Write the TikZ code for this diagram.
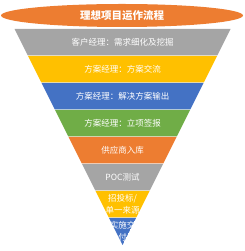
\documentclass[tikz,border=0pt]{standalone}
\usepackage{fontspec}
\setmainfont{Noto Sans CJK SC}
\usepackage{tikz}
\usetikzlibrary{shapes.geometric, positioning}
\definecolor{myorange}{RGB}{237,125,49}
\definecolor{mygray}{RGB}{165,165,165}
\definecolor{myyellow}{RGB}{255,192,0}
\definecolor{myblue}{RGB}{68,114,196}
\definecolor{mygreen}{RGB}{112,173,71}
\tikzset{
  titlebox/.style={ellipse, fill=myorange, minimum width=242pt,
    minimum height=23pt, inner sep=0pt, text=white,
    font=\fontsize{10.5}{12}\selectfont\bfseries},
  bandtext/.style={text=white, align=center, inner sep=0pt,
    font=\fontsize{8.5}{12}\selectfont}
}

\begin{document}
\begin{tikzpicture}[x=1pt, y=1pt]
  \useasboundingbox (0,0) rectangle (244,251);

  % Title ellipse
  \node[titlebox] (title) at (122,235.5) {理想项目运作流程};

  % Funnel bands
  \foreach \i/\col/\txt in {1/mygray/{客户经理：需求细化及挖掘},
      2/myyellow/{方案经理：方案交流},
      3/myblue/{方案经理：解决方案输出},
      4/mygreen/{方案经理：立项签报},
      5/myorange/{供应商入库},
      6/mygray/{POC测试},
      7/myyellow/{招投标/\\单一来源}} {
    \pgfmathsetmacro{\yt}{222-27*(\i-1)}
    \pgfmathsetmacro{\yb}{\yt-26.3}
    \fill[\col] ({122.5-(\yt-6)/2},\yt) -- ({122.5+(\yt-6)/2},\yt)
      -- ({122.5+(\yb-6)/2},\yb) -- ({122.5-(\yb-6)/2},\yb) -- cycle;
    \node[bandtext] (band\i) at (122.5,{\yt-13.15}) {\txt};
  }

  % Bottom tip
  \begin{scope}
    \clip (109,33) -- (136,33) -- (122.5,6) -- cycle;
    \fill[myblue] (109,33) -- (136,33) -- (122.5,6) -- cycle;
    \node[bandtext] (band8) at (122.5,19.5) {实施交\\付};
  \end{scope}
\end{tikzpicture}
\end{document}
